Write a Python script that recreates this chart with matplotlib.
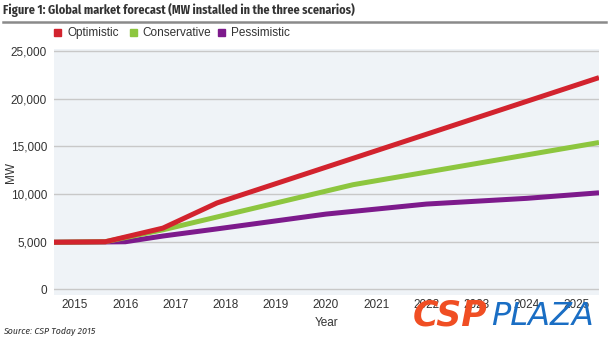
import matplotlib.pyplot as plt
from matplotlib.patches import Rectangle
from matplotlib.lines import Line2D

years = list(range(2015, 2026))
series_names = ["Optimistic", "Conservative", "Pessimistic"]
colors = ["#d2232e", "#8dc63f", "#7d1a8c"]

# x positions of the line knots (the chart is not aligned to the year ticks)
opt_x = [2014.58, 2015.6, 2016.75, 2017.83, 2025.44]
opt_y = [4950, 5000, 6430, 9070, 22200]
con_x = [2014.58, 2015.6, 2016.75, 2020.54, 2025.44]
con_y = [4950, 5000, 6250, 10980, 15400]
pes_x = [2014.58, 2015.6, 2016.0, 2016.75, 2017.83, 2020.0, 2022.0, 2024.0, 2025.44]
pes_y = [4950, 4980, 5000, 5600, 6350, 7900, 8950, 9550, 10130]

plt.rcParams["font.family"] = ["Liberation Sans", "DejaVu Sans"]
narrow = ["Fira Sans Condensed", "DejaVu Sans"]

fig = plt.figure(figsize=(6.10, 3.44), dpi=100)
ax = fig.add_axes([0.0885, 0.1424, 0.8935, 0.7152])
ax.set_facecolor("#eff3f7")

ax.plot(opt_x, opt_y, color=colors[0], lw=3.6, solid_capstyle="butt", zorder=5)
ax.plot(con_x, con_y, color=colors[1], lw=3.6, solid_capstyle="butt", zorder=4)
ax.plot(pes_x, pes_y, color=colors[2], lw=3.6, solid_capstyle="butt", zorder=3)

ax.set_xlim(2014.58, 2025.44)
ax.set_ylim(-580, 25200)
ax.set_xticks(years)
ax.set_xticklabels([str(y) for y in years], fontsize=8.5, color="#333333")
ax.set_yticks(range(0, 25001, 5000))
ax.set_yticklabels(["0", "5,000", "10,000", "15,000", "20,000", "25,000"],
                   fontsize=8.5, color="#333333")
ax.tick_params(axis="x", length=0, pad=3)
ax.tick_params(axis="y", length=0, pad=5)
ax.grid(axis="y", color="#c8c8c8", lw=1)
for s in ax.spines.values():
    s.set_visible(False)

ax.set_xlabel("Year", fontsize=8.5, color="#333333", labelpad=4)
ax.set_ylabel("MW", fontsize=8.5, color="#333333")
ax.yaxis.set_label_coords(-0.068, 0.5)

fig.text(0.005, 0.970, "Figure 1: Global market forecast (MW installed in the three scenarios)",
         fontsize=8.8, fontweight="bold", color="#333333", va="center", family=narrow)
fig.add_artist(Line2D([0.005, 0.993], [0.936, 0.936], color="#8a8a8a", lw=1.8))

# legend
lx = [0.089, 0.213, 0.357]
for x, name, c in zip(lx, series_names, colors):
    fig.add_artist(Rectangle((x, 0.894), 0.0115, 0.021, color=c))
    fig.text(x + 0.021, 0.904, name, fontsize=8.5, color="#333333", va="center")

fig.text(0.005, 0.03, "Source: CSP Today 2015", fontsize=7, style="italic",
         color="#333333", family=narrow)

# watermark
fig.text(0.676, 0.055, "CSP", fontsize=25, fontweight="heavy", style="italic",
         color="#f04e23", family="DejaVu Sans", zorder=10)
fig.text(0.805, 0.055, "PLAZA", fontsize=23, style="italic",
         color="#1a6ec4", family="DejaVu Sans", zorder=10)

fig.savefig("out.png", dpi=100)
